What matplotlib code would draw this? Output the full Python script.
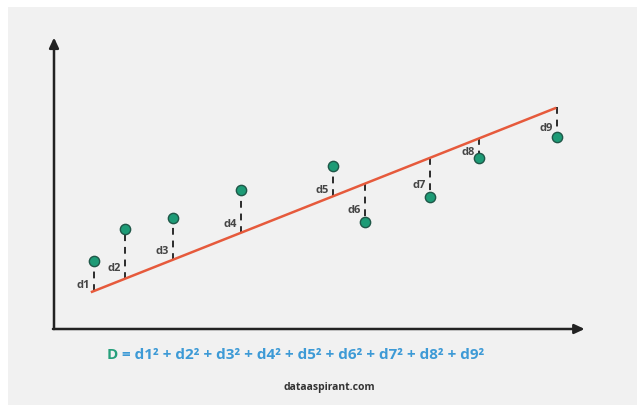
import numpy as np
import matplotlib.pyplot as plt
from matplotlib.patches import Rectangle

# data points and fitted line
x_vals = [0.76, 1.34, 2.25, 3.54, 5.28, 5.89, 7.12, 8.05, 9.53]
y_vals = [1.41, 2.07, 2.30, 2.88, 3.37, 2.21, 2.73, 3.54, 3.97]
labels = ['d1', 'd2', 'd3', 'd4', 'd5', 'd6', 'd7', 'd8', 'd9']
slope = 0.433
intercept = 0.458
line_x = [0.72, 9.49]

x = np.array(x_vals)
y = np.array(y_vals)
fit = intercept + slope * x
line_y = [intercept + slope * v for v in line_x]

plt.rcParams['font.family'] = ['Open Sans', 'DejaVu Sans']

W, H = 638, 406
fig = plt.figure(figsize=(W / 100, H / 100), dpi=100)
fig.patch.set_facecolor('white')
fig.patches.append(Rectangle((8 / W, 0), 629 / W, 398 / H, transform=fig.transFigure,
                             facecolor='#f1f1f1', edgecolor='none', zorder=-5))

# axes origin at pixel (54, 330), top-right at (582, 40)
ax = fig.add_axes([54 / W, (H - 330) / H, 528 / W, 290 / H])
ax.set_xlim(0, 10)
ax.set_ylim(0, 6)
ax.set_facecolor('none')
for s in ax.spines.values():
    s.set_visible(False)
ax.set_xticks([])
ax.set_yticks([])

arrow = dict(arrowstyle='-|>,head_length=0.6,head_width=0.28', color='#222222', lw=1.8, shrinkA=0, shrinkB=0)
ax.annotate('', xy=(0, 1.005), xytext=(0, 0), xycoords='axes fraction', arrowprops=arrow, annotation_clip=False)
ax.annotate('', xy=(1.005, 0), xytext=(-0.002, 0), xycoords='axes fraction', arrowprops=arrow, annotation_clip=False)

ax.plot(line_x, line_y, color='#e65a3c', lw=1.8, zorder=2)
ax.vlines(x, fit, y, colors='#2b2b2b', lw=1.4, linestyles=(0, (3.5, 3)), zorder=1)
ax.scatter(x, y, s=55, color='#1d9b76', edgecolors='#1f5748', linewidths=1, zorder=3)

for xi, yi, fi, lab in zip(x, y, fit, labels):
    frac = 0.22 if yi > fi else 0.68
    ax.annotate(lab, xy=(xi, fi + frac * (yi - fi)), xytext=(-3, 0), textcoords='offset points',
                ha='right', va='center', fontsize=8, fontweight='bold', color='#454545')

# formula below the chart
t = fig.text(107 / W, (H - 355) / H, 'D', fontsize=11, fontweight='bold', color='#27a07c',
             ha='left', va='center')
ax.annotate(' = d1² + d2² + d3² + d4² + d5² + d6² + d7² + d8² + d9²', xy=(1, 0), xycoords=t,
            ha='left', va='bottom', fontsize=11, fontweight='bold', color='#3d9ad6', annotation_clip=False)

fig.text(329 / W, (H - 388) / H, 'dataaspirant.com', fontsize=7.5, fontweight='bold',
         color='#333333', ha='center', va='center')

fig.savefig('out.png', dpi=100)
